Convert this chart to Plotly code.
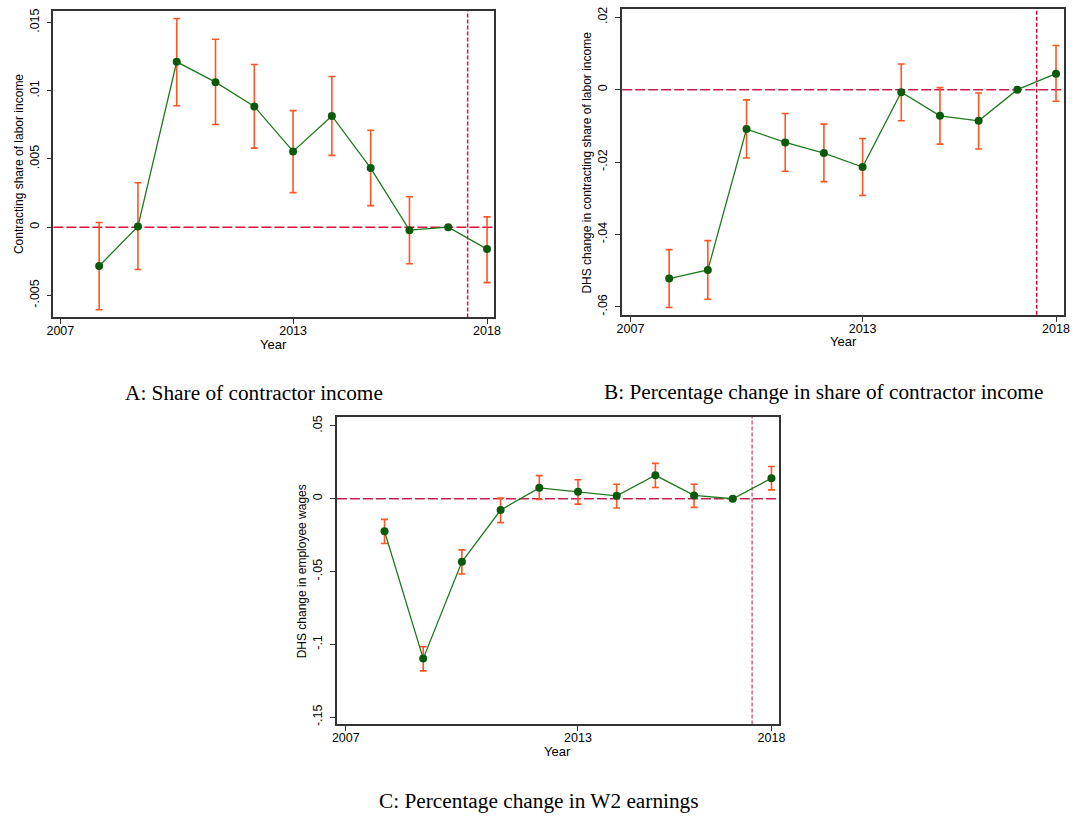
import plotly.graph_objects as go

years = [2008, 2009, 2010, 2011, 2012, 2013, 2014, 2015, 2016, 2017, 2018]

# Panel A: contracting share of labor income
a_est = [-0.00285, 0.00005, 0.01212, 0.01063, 0.00885, 0.00555, 0.00815, 0.00433, -0.00022, 0.0, -0.00161]
a_hi = [0.00034, 0.00326, 0.0153, 0.01377, 0.01192, 0.00854, 0.01104, 0.0071, 0.00223, 0.0, 0.00075]
a_lo = [-0.00606, -0.0031, 0.0089, 0.00752, 0.00579, 0.00253, 0.00526, 0.00158, -0.00268, 0.0, -0.00407]

# Panel B: DHS change in contracting share of labor income
b_est = [-0.0522, -0.0498, -0.0109, -0.01458, -0.01752, -0.02137, -0.00073, -0.00724, -0.00861, 0.0, 0.0044]
b_hi = [-0.0442, -0.0417, -0.00284, -0.0066, -0.00954, -0.01348, 0.00707, 0.00055, -0.00091, 0.0, 0.01219]
b_lo = [-0.0602, -0.0579, -0.0189, -0.02256, -0.0254, -0.02924, -0.00861, -0.01504, -0.01642, 0.0, -0.00322]

# Panel C: DHS change in employee wages
c_est = [-0.0223, -0.1098, -0.0433, -0.0078, 0.0075, 0.0048, 0.0020, 0.0161, 0.0023, 0.0, 0.0141]
c_hi = [-0.01414, -0.1016, -0.0351, 0.0004, 0.0159, 0.0130, 0.0100, 0.0243, 0.0100, 0.0, 0.0221]
c_lo = [-0.0307, -0.1182, -0.0517, -0.0164, -0.0005, -0.0037, -0.0064, 0.0077, -0.0059, 0.0, 0.0061]

x_ticks = [2007, 2013, 2018]
a_ticks = [-0.005, 0, 0.005, 0.01, 0.015]
a_ticktext = ["-.005", "0", ".005", ".01", ".015"]
b_ticks = [-0.06, -0.04, -0.02, 0, 0.02]
b_ticktext = ["-.06", "-.04", "-.02", "0", ".02"]
c_ticks = [-0.15, -0.1, -0.05, 0, 0.05]
c_ticktext = ["-.15", "-.1", "-.05", "0", ".05"]

a_ytitle = "Contracting share of labor income"
b_ytitle = "DHS change in contracting share of labor income"
c_ytitle = "DHS change in employee wages"
captions = ["A: Share of contractor income",
            "B: Percentage change in share of contractor income",
            "C: Percentage change in W2 earnings"]
ref_year = 2017.5

SANS = "Liberation Sans, Arial, Helvetica, sans-serif"
SERIF = "Liberation Serif, Times New Roman, serif"
ERR = "#FF5522"
MARK = "#0B5A0B"
LINE = "#1F7A1F"

fig = go.Figure()

panels = [
    ("x", "y", a_est, a_hi, a_lo),
    ("x2", "y2", b_est, b_hi, b_lo),
    ("x3", "y3", c_est, c_hi, c_lo),
]
for xr, yr, est, hi, lo in panels:
    plus = [h - e for h, e in zip(hi, est)]
    minus = [e - l for e, l in zip(est, lo)]
    fig.add_trace(go.Scatter(
        x=years, y=est, xaxis=xr, yaxis=yr, mode="lines+markers",
        line=dict(color=LINE, width=1.3),
        marker=dict(color=MARK, size=8),
        error_y=dict(type="data", symmetric=False, array=plus, arrayminus=minus,
                     color=ERR, thickness=1.6, width=3.5),
        showlegend=False, hoverinfo="x+y"))

axis_common = dict(showgrid=False, zeroline=False, showline=True, linecolor="#333333",
                   linewidth=1.5, mirror=True, ticks="outside", ticklen=5, tickwidth=1,
                   tickcolor="#333333", tickfont=dict(family=SANS, size=12.5, color="black"))
xcommon = dict(ticklabelstandoff=-4, **axis_common)
ycommon = dict(ticklabelstandoff=3, tickangle=-90, **axis_common)

fig.update_layout(
    width=1080, height=816, margin=dict(l=0, r=0, t=0, b=0),
    paper_bgcolor="white", plot_bgcolor="white",
    xaxis=dict(domain=[0.0435, 0.4565], range=[2006.82, 2018.17], tickvals=x_ticks,
               anchor="y", **xcommon),
    yaxis=dict(domain=[0.6115, 0.989], range=[-0.00662, 0.01585], tickvals=a_ticks,
               ticktext=a_ticktext, anchor="x", **ycommon),
    xaxis2=dict(domain=[0.5771, 0.9917], range=[2006.786, 2018.21], tickvals=x_ticks,
                anchor="y2", **xcommon),
    yaxis2=dict(domain=[0.6148, 0.9918], range=[-0.0622, 0.02237], tickvals=b_ticks,
                ticktext=b_ticktext, anchor="x2", **ycommon),
    xaxis3=dict(domain=[0.3095, 0.7244], range=[2006.77, 2018.2], tickvals=x_ticks,
                anchor="y3", **xcommon),
    yaxis3=dict(domain=[0.1103, 0.4893], range=[-0.155, 0.05635], tickvals=c_ticks,
                ticktext=c_ticktext, anchor="x3", **ycommon),
)

hcolors = ["#E0103C", "#C8204E", "#C8204E"]
vcolors = ["#E0103C", "#B8103C", "#E06080"]
for i, (xr, yr) in enumerate([("x", "y"), ("x2", "y2"), ("x3", "y3")]):
    dom = "" if xr == "x" else xr[1:]
    fig.add_shape(type="line", xref=f"x{dom} domain", yref=yr, x0=0, x1=1, y0=0, y1=0,
                  line=dict(color=hcolors[i], width=1.5, dash="10px,3px"), layer="below")
    fig.add_shape(type="line", xref=xr, yref=f"y{dom} domain", x0=ref_year, x1=ref_year,
                  y0=0, y1=1, line=dict(color=vcolors[i], width=1.5, dash="4px,2px"),
                  layer="below")

# axis titles
def ann(text, x, y, size=12, angle=0, family=SANS):
    fig.add_annotation(text=text, x=x / 1080, y=1 - y / 816, xref="paper", yref="paper",
                       showarrow=False, textangle=angle, xanchor="center", yanchor="middle",
                       font=dict(family=family, size=size, color="black"))

ann("Year", 270, 344, size=13)
ann("Year", 847, 341, size=13)
ann("Year", 558, 753, size=13)
ann(a_ytitle, 12, 163, angle=-90)
ann(b_ytitle, 588, 161, angle=-90)
ann(c_ytitle, 299, 572, angle=-90)

ann(captions[0], 250.5, 393, size=21.3, family=SERIF)
ann(captions[1], 827.5, 392, size=21.3, family=SERIF)
ann(captions[2], 539, 803, size=21.3, family=SERIF)

fig.write_html("out.html")
